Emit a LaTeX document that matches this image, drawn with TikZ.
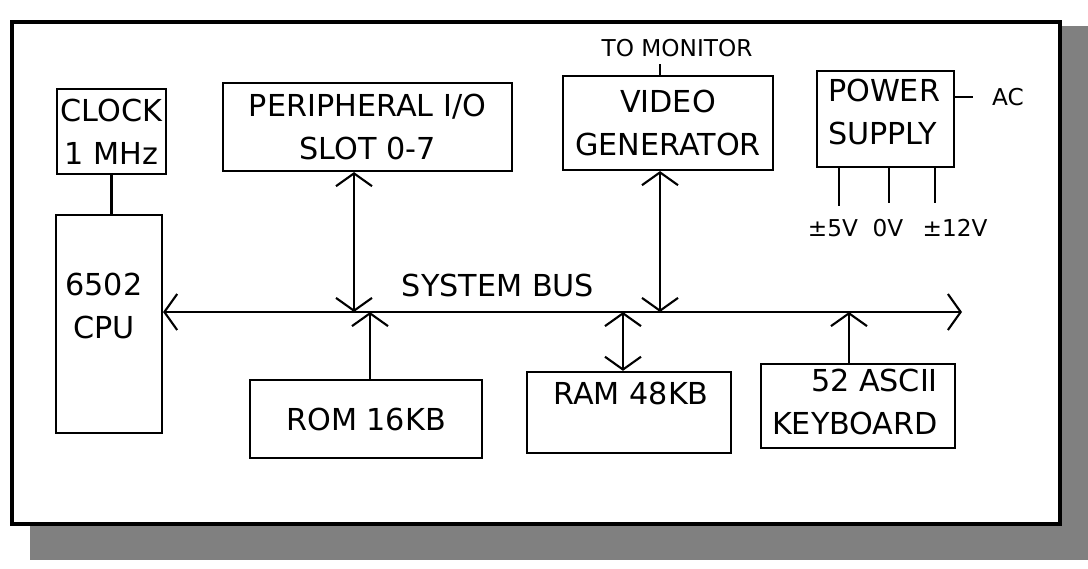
\documentclass[tikz,border=0pt]{standalone}
\usepackage{fontspec}
\setmainfont{DejaVu Sans}
\usetikzlibrary{arrows.meta,calc,positioning}

\begin{document}
\begin{tikzpicture}[x=0.025cm,y=-0.025cm,line width=1.5pt,
  >={Straight Barb[length=3.2mm,width=9mm]},
  unit/.style={draw,inner sep=0pt,align=center,font=\fontsize{21.5}{30.5}\selectfont},
  txt/.style={inner sep=0pt,font=\fontsize{21.5}{30.5}\selectfont},
  lbl/.style={inner sep=0pt,font=\fontsize{16.5}{19}\selectfont}]
  \useasboundingbox (0,0) rectangle (1088,568);
  % shadow and frame
  \fill[black!50] (30,26) rectangle (1088,560);
  \draw[line width=3.5pt,fill=white] (12,22) rectangle (1060,524);
  % units
  \node[unit,minimum width=2.73cm,minimum height=2.13cm] (clock) at (111.5,131.5) {CLOCK\\1 MHz};
  \node[unit,minimum width=2.65cm,minimum height=5.45cm] (cpu) at (109,324) {};
  \node[txt,align=center] (cputxt) at (104,306) {6502\\CPU};
  \node[unit,minimum width=7.23cm,minimum height=2.2cm] (periph) at (367.5,127) {PERIPHERAL I/O\\SLOT 0-7};
  \node[unit,minimum width=5.25cm,minimum height=2.35cm] (video) at (668,123) {VIDEO\\GENERATOR};
  \node[unit,minimum width=3.43cm,minimum height=2.4cm] (power) at (885.5,119) {};
  \node[txt,align=left,anchor=west] (pwrtxt) at (827,112) {POWER\\SUPPLY};
  \node[unit,minimum width=5.8cm,minimum height=1.95cm] (rom) at (366,419) {ROM 16KB};
  \node[unit,minimum width=5.1cm,minimum height=2.03cm] (ram) at (629,412.5) {};
  \node[txt] (ramtxt) at (631,393) {RAM 48KB};
  \node[unit,minimum width=4.85cm,minimum height=2.1cm] (kbd) at (858,406) {};
  \node[txt,align=right,anchor=east] (kbdtxt) at (939,402) {52 ASCII\\KEYBOARD};
  % labels
  \node[lbl] (mon) at (677,48) {TO MONITOR};
  \node[lbl] (ac) at (1008,97) {AC};
  \node[lbl] (v5) at (833,228) {±5V};
  \node[lbl] (v0) at (888,228) {0V};
  \node[lbl] (v12) at (955,228) {±12V};
  \node[txt] (sysbus) at (498,285) {SYSTEM BUS};
  % bus taps
  \coordinate (busy) at (0,312);
  \coordinate (busR) at (962,312);
  \coordinate (tapP) at (354,312);
  \coordinate (tapR) at (370,312);
  \coordinate (tapM) at (623,312);
  \coordinate (tapV) at (660,312);
  \coordinate (tapK) at (849,312);
  \coordinate (vidtop) at (660,64);
  \coordinate (l5) at (839,206);
  \coordinate (l0) at (889,203);
  \coordinate (l12) at (935,203);
  % connections
  \draw (clock.south) -- (clock.south |- cpu.north);
  \draw[<->] (cpu.east |- busy) -- (busR);
  \draw[<->] (periph.south -| tapP) -- (tapP);
  \draw[->] (rom.north -| tapR) -- (tapR);
  \draw[<->] (ram.north -| tapM) -- (tapM);
  \draw[<->] (video.south -| tapV) -- (tapV);
  \draw[->] (kbd.north -| tapK) -- (tapK);
  \draw (vidtop) -- (vidtop |- video.north);
  \draw (power.east |- ac) -- ($(ac.west)+(-18,0)$);
  \draw (power.south -| l5) -- (l5);
  \draw (power.south -| l0) -- (l0);
  \draw (power.south -| l12) -- (l12);
\end{tikzpicture}
\end{document}
